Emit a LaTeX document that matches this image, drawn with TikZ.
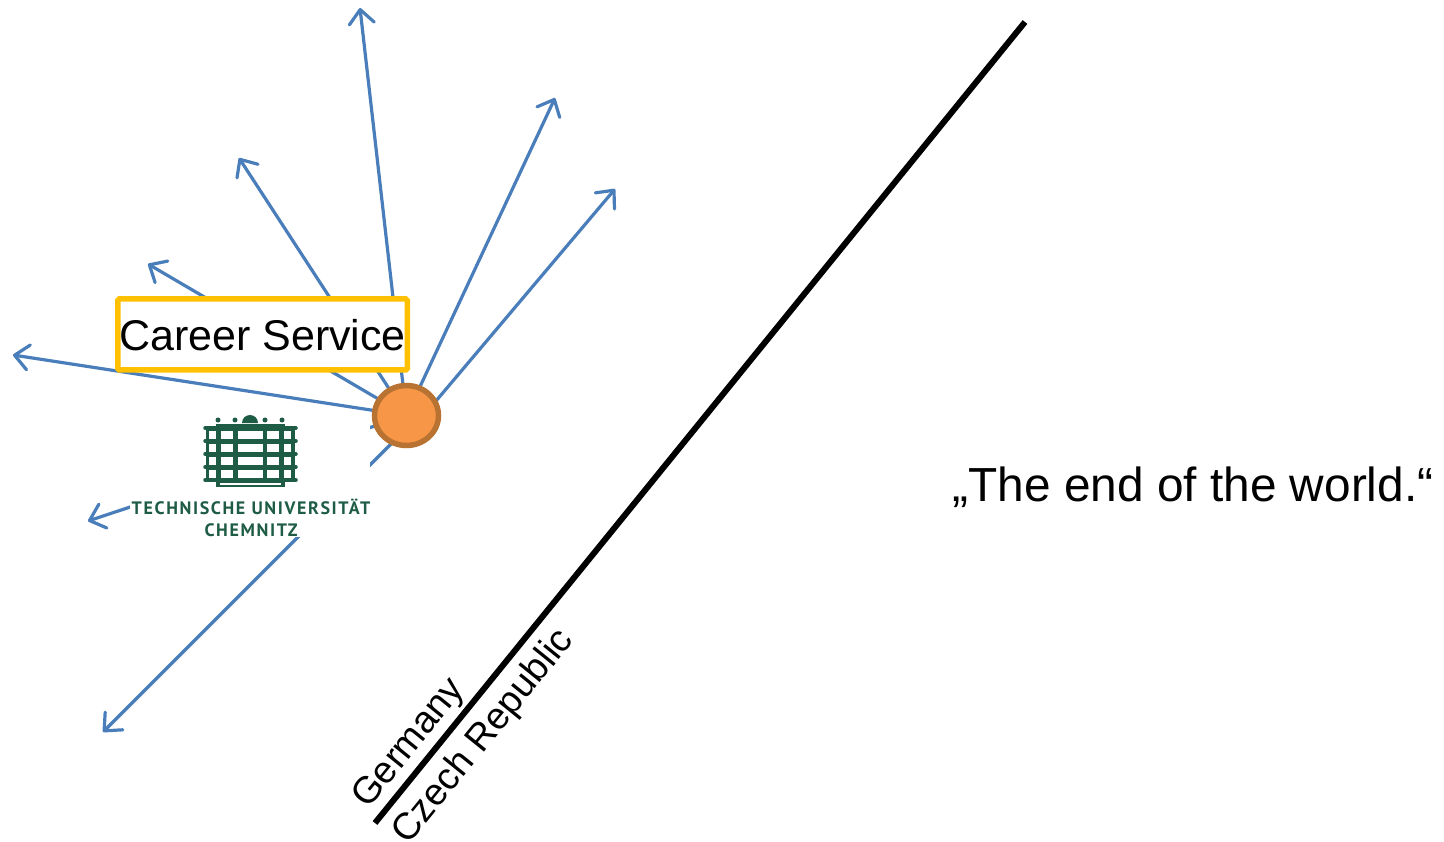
\documentclass[tikz,border=0pt]{standalone}
\usepackage{fontspec}
\setmainfont{Liberation Sans}
\newfontfamily\logofont[LetterSpace=9]{PT Sans}
\usetikzlibrary{
  shapes.geometric,  % Shape "ellipse"
  arrows.meta,
  backgrounds,       % Predefined layer named "background"
}
\definecolor{myblue}{HTML}{4A7EBB}
\definecolor{myyellow}{HTML}{FFC000}
\definecolor{myorange}{HTML}{F79646}
\definecolor{myrust}{HTML}{B87333}
\definecolor{mygreen}{HTML}{1F5C45}
\def\mybigfont{\fontsize{43}{50}\selectfont}
\def\myquotefont{\fontsize{47.8}{54}\selectfont}
\def\mysidefont{\fontsize{37.6}{44}\selectfont}
\def\mylogofont{\logofont\bfseries\fontsize{18}{22}\selectfont}
\tikzset{
  x=1pt,
  y=-1pt,
  my reach/.style={
    draw=myblue,
    line width=3.2pt,
    -{Straight Barb[length=14pt,width=25pt,line width=3.2pt,round]}
  },
  my box/.style={
    draw=myyellow,
    fill=white,
    line width=5.5pt,
    rounded corners=1.5pt,
    minimum width=289.5pt,
    minimum height=71pt,
    inner sep=0pt,
    font=\mybigfont
  },
  my hub/.style={
    draw=myrust,
    fill=myorange,
    ellipse,
    line width=5.5pt,
    minimum width=64pt,
    minimum height=60pt,
    inner sep=0pt
  },
  my logo/.style={
    fill=white,
    minimum width=240pt,
    minimum height=121pt,
    inner sep=0pt
  },
  my logotext/.style={
    text=mygreen,
    inner sep=0pt,
    font=\mylogofont
  },
  my border/.style={
    line width=6pt
  },
  my side/.style={
    rotate=51,
    inner sep=0pt,
    font=\mysidefont
  }
}
\begin{document}
\begin{tikzpicture}
\useasboundingbox (0,0) rectangle (1444,842);
% Free ends of the arrows
\coordinate (north)      at (360,8);
\coordinate (northeast)  at (555,98);
\coordinate (east)       at (615,189);
\coordinate (northwest)  at (239,158);
\coordinate (upperwest)  at (148,264);
\coordinate (west)       at (13,355);
\coordinate (lowerwest)  at (88,521);
\coordinate (southwest)  at (103,732);
\coordinate (eastfoot)   at (425,414);
\coordinate (southfoot)  at (412,423);
\coordinate (borderlow)  at (375,823);
\coordinate (borderhigh) at (1025,22);

\node[my box]  (career) at (262.5,334.5) {\raisebox{-1pt}[\height][\depth]{Career Service}};
\node[my hub]  (hub)    at (406.5,415.5) {};
\node[my logo] (logo)   at (250,476.5)   {};
\node[my logotext] (tuname) at (251,507) {TECHNISCHE UNIVERSITÄT};
\node[my logotext] (tucity) at (251,530) {CHEMNITZ};

% Building of the logo
\begin{scope}[mygreen]
  \fill (206,427) rectangle (295,482);
  \fill (216,424) rectangle (285,487);
  \fill (242,423) arc[start angle=180,end angle=360,radius=8] -- cycle;
  \foreach \x in {218,235,265,282}
    \fill (\x,420) circle (2.5);
  \foreach \y in {428,441,454,467,480}
    \draw[line width=3.5pt,line cap=round] (205,\y) -- (296,\y);
\end{scope}
\foreach \x/\w in {209/7,221/12,238/25,267/12,284/7}
  \foreach \y in {430.5,443.5,456.5,469.5}
    \fill[white] (\x,\y) rectangle ++(\w,8);
\fill[white] (220,483) rectangle (281,484.5);

\begin{scope}[on background layer]
  \foreach \tip in {north,northeast,northwest,upperwest,west,lowerwest}
    \draw[my reach] (hub.center) -- (\tip);
  \draw[my reach] (eastfoot) -- (east);
  \draw[my reach] (southfoot) -- (southwest);
\end{scope}

\draw[my border] (borderlow) -- (borderhigh);
\node[my side] (germany) at (410,744) {Germany};
\node[my side] (czech)   at (484,737) {Czech Republic};
\node[inner sep=0pt,font=\myquotefont] (world) at (1193,487) {„The end of the world.“};
\end{tikzpicture}
\end{document}
